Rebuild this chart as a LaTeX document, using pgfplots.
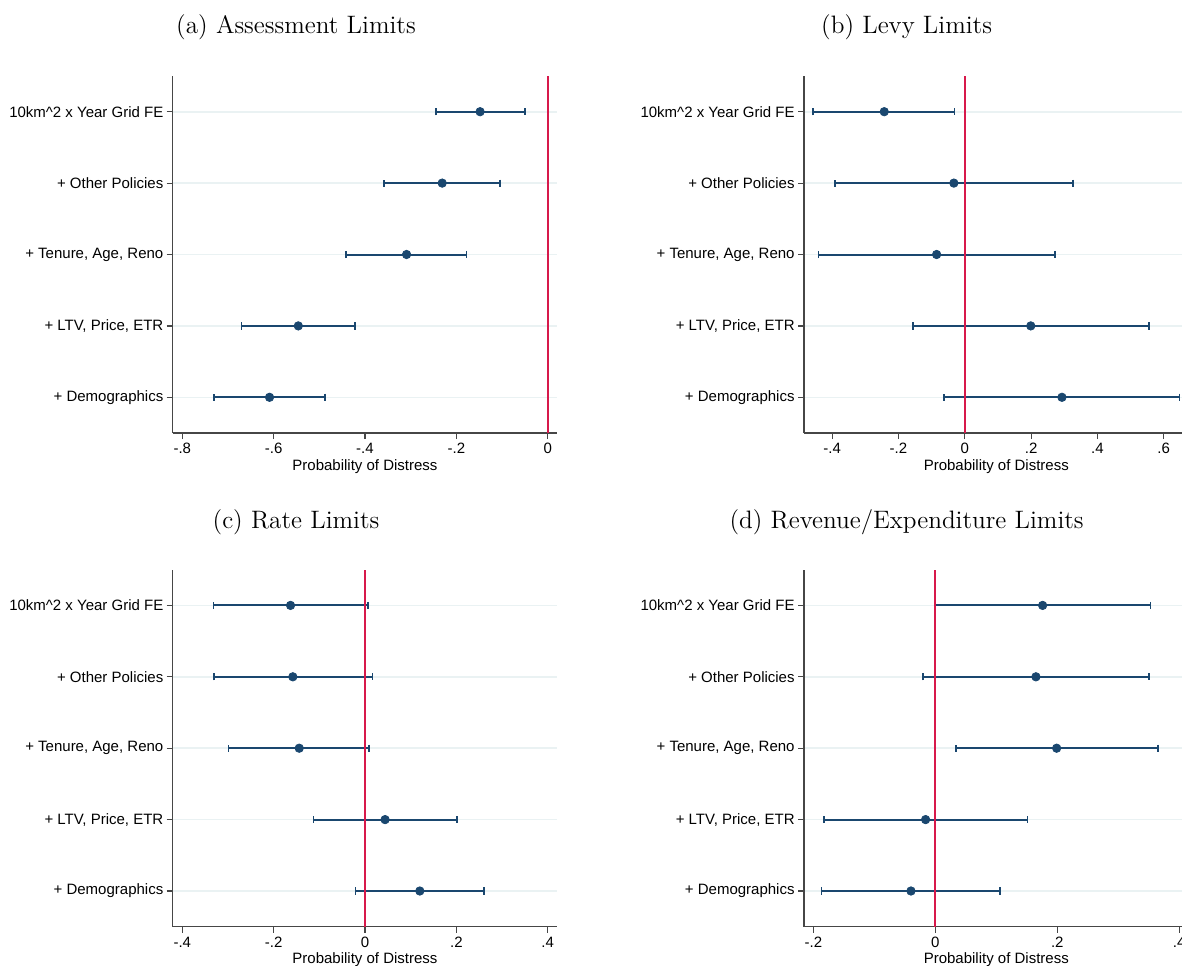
\documentclass[border=0pt]{standalone}
\usepackage{pgfplots}
\pgfplotsset{compat=1.18}
\usepackage{pgfplotstable}
\usepackage{fontspec}
\newfontfamily\arial{Liberation Sans}
\definecolor{navy}{RGB}{26,71,111}
\definecolor{gridc}{RGB}{234,242,243}
\definecolor{axc}{RGB}{70,70,70}
\definecolor{zred}{RGB}{215,25,75}

% columns: y (1 = Demographics ... 5 = Grid FE), b = estimate, lo/hi = CI
\pgfplotstableread{
y b lo hi
5 -0.148 -0.245 -0.050
4 -0.231 -0.359 -0.104
3 -0.309 -0.442 -0.178
2 -0.546 -0.670 -0.422
1 -0.609 -0.731 -0.488
}\tA
\pgfplotstableread{
y b lo hi
5 -0.243 -0.458 -0.031
4 -0.033 -0.392 0.327
3 -0.085 -0.441 0.272
2 0.199 -0.156 0.556
1 0.293 -0.062 0.647
}\tB
\pgfplotstableread{
y b lo hi
5 -0.163 -0.332 0.007
4 -0.158 -0.330 0.016
3 -0.144 -0.299 0.009
2 0.044 -0.113 0.201
1 0.120 -0.021 0.260
}\tC
\pgfplotstableread{
y b lo hi
5 0.176 -0.001 0.353
4 0.165 -0.020 0.351
3 0.199 0.034 0.365
2 -0.016 -0.183 0.151
1 -0.040 -0.187 0.106
}\tD

\pgfplotsset{
  coefstyle/.style={
    scale only axis, width=192.3pt, height=178.5pt,
    anchor=south west,
    axis x line*=bottom, axis y line*=left,
    axis line style={axc, line width=0.6pt},
    tick style={axc, line width=0.6pt},
    tick align=outside, major tick length=3pt,
    ymin=0.5, ymax=5.5, ytick={1,2,3,4,5},
    yticklabels={+ Demographics, {+ LTV, Price, ETR}, {+ Tenure, Age, Reno}, + Other Policies, 10km\textasciicircum 2 x Year Grid FE},
    ymajorgrids, y grid style={gridc, line width=0.8pt},
    xmajorgrids=false,
    tick label style={font=\arial\fontsize{7.5}{9}\selectfont, text=black},
    yticklabel style={inner sep=0pt, xshift=-1.5pt},
    xticklabel style={inner sep=0pt, yshift=-2pt},
    xlabel={Probability of Distress},
    xlabel style={font=\arial\fontsize{7.5}{9}\selectfont, at={(axis description cs:0.5,0)}, anchor=base, yshift=-18.5pt},
    clip=false,
  },
  cistyle/.style={only marks, mark=*, mark size=2.1pt, color=navy,
    mark options={fill=navy, draw=navy},
    error bars/.cd, x dir=both, x explicit,
    error bar style={line width=1pt, color=navy},
    error mark options={color=navy, line width=0.8pt, mark size=1.8pt, rotate=90}},
  zline/.style={zred, line width=0.95pt},
}

\begin{document}
\begin{tikzpicture}[x=1pt,y=1pt]
\useasboundingbox (0,0) rectangle (591,482.5);

% (a)
\begin{axis}[coefstyle, at={(86.35pt,266pt)}, xmin=-0.821, xmax=0.021,
  xtick={-0.8,-0.6,-0.4,-0.2,0}, xticklabels={-.8,-.6,-.4,-.2,0}]
\addplot[cistyle] table[x=b, y=y, x error plus expr=\thisrow{hi}-\thisrow{b}, x error minus expr=\thisrow{b}-\thisrow{lo}] {\tA};
\addplot[zline] coordinates {(0,0.5) (0,5.5)};
\end{axis}

% (b)
\begin{axis}[coefstyle, at={(402pt,266pt)}, xmin=-0.485, xmax=0.675,
  xtick={-0.4,-0.2,0,0.2,0.4,0.6}, xticklabels={-.4,-.2,0,.2,.4,.6}]
\addplot[cistyle] table[x=b, y=y, x error plus expr=\thisrow{hi}-\thisrow{b}, x error minus expr=\thisrow{b}-\thisrow{lo}] {\tB};
\addplot[zline] coordinates {(0,0.5) (0,5.5)};
\end{axis}

% (c)
\begin{axis}[coefstyle, at={(86.35pt,19.15pt)}, xmin=-0.421, xmax=0.421,
  xtick={-0.4,-0.2,0,0.2,0.4}, xticklabels={-.4,-.2,0,.2,.4}]
\addplot[cistyle] table[x=b, y=y, x error plus expr=\thisrow{hi}-\thisrow{b}, x error minus expr=\thisrow{b}-\thisrow{lo}] {\tC};
\addplot[zline] coordinates {(0,0.5) (0,5.5)};
\end{axis}

% (d)
\begin{axis}[coefstyle, at={(402pt,19.15pt)}, xmin=-0.2155, xmax=0.4155,
  xtick={-0.2,0,0.2,0.4}, xticklabels={-.2,0,.2,.4}]
\addplot[cistyle] table[x=b, y=y, x error plus expr=\thisrow{hi}-\thisrow{b}, x error minus expr=\thisrow{b}-\thisrow{lo}] {\tD};
\addplot[zline] coordinates {(0,0.5) (0,5.5)};
\end{axis}

\node[anchor=base, inner sep=0pt, font=\fontsize{12.6}{15}\selectfont] at (148,465.85) {(a) Assessment Limits};
\node[anchor=base, inner sep=0pt, font=\fontsize{12.6}{15}\selectfont] at (453.3,465.85) {(b) Levy Limits};
\node[anchor=base, inner sep=0pt, font=\fontsize{12.6}{15}\selectfont] at (148,218.5) {(c) Rate Limits};
\node[anchor=base, inner sep=0pt, font=\fontsize{12.6}{15}\selectfont] at (453.3,218.5) {(d) Revenue/Expenditure Limits};
\end{tikzpicture}
\end{document}
